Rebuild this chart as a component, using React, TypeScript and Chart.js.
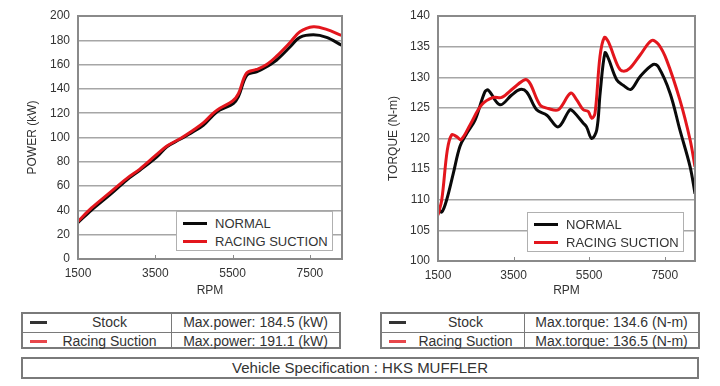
import React, { useEffect, useRef } from "react";
import { Chart, registerables } from "chart.js";

Chart.register(...registerables);

// ---------- data ----------
const X_TICKS = [1500, 3500, 5500, 7500];
const SERIES_LABELS = ["NORMAL", "RACING SUCTION"];

const POWER_RPM_NORMAL = [1500, 1850, 2330, 2760, 3100, 3540, 3800, 4140, 4480, 4740, 5000, 5170, 5520, 5650, 5870, 6120, 6380, 6640, 6990, 7240, 7590, 7930, 8320];
const POWER_NORMAL = [30, 40.3, 53, 65, 73, 84, 92.4, 98.5, 104.8, 110, 118.5, 122.6, 128, 133.6, 151.4, 154, 158.3, 163.8, 174.7, 182.4, 184.5, 182.4, 176];
const POWER_RPM_RACING = [1500, 1850, 2300, 2750, 3100, 3500, 3800, 4140, 4480, 4740, 5000, 5170, 5500, 5650, 5860, 6120, 6380, 6640, 6980, 7240, 7590, 7930, 8320];
const POWER_RACING = [31, 42, 54, 66, 74, 85, 93, 99, 106, 112, 120, 124, 130, 136, 153, 156, 160, 167, 178, 187, 191.1, 189, 184];

const TORQUE_RPM_NORMAL = [1500, 1600, 1730, 1905, 2080, 2260, 2480, 2740, 2830, 3140, 3450, 3670, 3845, 4110, 4380, 4680, 4990, 5080, 5345, 5430, 5566, 5700, 5790, 5918, 6006, 6227, 6400, 6600, 6844, 7196, 7330, 7640, 7900, 8170, 8300];
const TORQUE_NORMAL = [108.6, 108.0, 110, 114.3, 118.7, 120.8, 123, 127.6, 127.9, 125.5, 127.1, 128.0, 127.6, 124.7, 123.8, 121.9, 124.7, 124.4, 122.5, 121.9, 120.0, 121.4, 127.4, 134.0, 133.1, 129.6, 128.7, 128.0, 130.1, 132.1, 131.7, 127.4, 121.4, 115.4, 111.0];
const TORQUE_RPM_RACING = [1500, 1600, 1746, 1862, 1994, 2108, 2347, 2656, 2963, 3185, 3492, 3800, 3934, 4198, 4418, 4683, 5010, 5170, 5345, 5477, 5566, 5654, 5786, 5901, 6006, 6270, 6400, 6580, 6844, 7152, 7330, 7550, 7900, 8170, 8300];
const TORQUE_RACING = [107.5, 110, 118.1, 120.6, 120.3, 119.8, 122.2, 125.5, 126.7, 126.7, 128.2, 129.6, 129.0, 125.5, 124.9, 124.7, 127.4, 126.3, 124.7, 124.4, 123.3, 124.1, 133.4, 136.5, 135.8, 131.7, 131.0, 131.5, 133.6, 136.0, 135.4, 132.8, 126.3, 119.8, 115.4];

const POWER_TABLE = ["Max.power: 184.5 (kW)", "Max.power: 191.1 (kW)"];
const TORQUE_TABLE = ["Max.torque: 134.6 (N-m)", "Max.torque: 136.5 (N-m)"];
const TABLE_LABELS = ["Stock", "Racing Suction"];
const SPEC_TEXT = "Vehicle Specification : HKS MUFFLER";

// ---------- style ----------
const FONT = "'Liberation Sans', Arial, Helvetica, sans-serif";
const TEXT = "#333333";
const BLACK = "#0a0a0a";
const RED = "#e3161d";
const GRID = "#a6a6a6";
const FRAME = "#8a8a8a";

const zip = (xs: number[], ys: number[]) => xs.map((x, i) => ({ x, y: ys[i] }));

const framePlugin = {
  id: "frame",
  afterDraw(chart: any) {
    const { ctx, chartArea } = chart;
    const { left, top, right, bottom } = chartArea;
    ctx.save();
    const xs = chart.scales.x;
    ctx.strokeStyle = FRAME;
    ctx.lineWidth = 1;
    xs.ticks.forEach((t: any) => {
      const px = Math.round(xs.getPixelForValue(t.value)) + 0.5;
      ctx.beginPath();
      ctx.moveTo(px, bottom);
      ctx.lineTo(px, bottom - 4);
      ctx.stroke();
    });
    ctx.lineWidth = 2;
    ctx.strokeRect(left, top, right - left, bottom - top);
    ctx.restore();
  },
};

type ChartProps = {
  left: number;
  top: number;
  rpmA: number[];
  valA: number[];
  rpmB: number[];
  valB: number[];
  xMax: number;
  yMin: number;
  yMax: number;
  yStep: number;
  yTitle: string;
  padTop: number;
  padRight: number;
  xAxisH: number;
  yTitlePad: number;
};

function DynoChart(p: ChartProps) {
  const ref = useRef<HTMLCanvasElement>(null);
  useEffect(() => {
    if (!ref.current) return;
    const font = { family: FONT, size: 12 };
    const chart = new Chart(ref.current, {
      type: "line",
      data: {
        datasets: [
          {
            label: SERIES_LABELS[0],
            data: zip(p.rpmA, p.valA),
            borderColor: BLACK,
            borderWidth: 3,
            pointRadius: 0,
            tension: 0.35,
            fill: false,
            order: 1,
          },
          {
            label: SERIES_LABELS[1],
            data: zip(p.rpmB, p.valB),
            borderColor: RED,
            borderWidth: 3,
            pointRadius: 0,
            tension: 0.35,
            fill: false,
            order: 0,
          },
        ],
      },
      options: {
        responsive: false,
        animation: false,
        devicePixelRatio: 1,
        layout: { padding: { top: p.padTop, right: p.padRight, left: 0, bottom: 0 } },
        plugins: { legend: { display: false }, tooltip: { enabled: false } },
        scales: {
          x: {
            type: "linear",
            min: 1500,
            max: p.xMax,
            afterBuildTicks: (s: any) => {
              s.ticks = X_TICKS.map((v) => ({ value: v }));
            },
            afterFit: (s: any) => {
              s.height = p.xAxisH;
            },
            grid: { display: false, drawTicks: false },
            border: { display: false },
            ticks: {
              padding: 7,
              color: TEXT,
              font,
              maxRotation: 0,
              autoSkip: false,
              callback: (v: any) => String(v),
            },
            title: { display: true, text: "RPM", color: TEXT, font, padding: { top: 0, bottom: 2 } },
          },
          y: {
            min: p.yMin,
            max: p.yMax,
            afterFit: (s: any) => {
              s.width = 78;
            },
            ticks: { stepSize: p.yStep, padding: 8, color: TEXT, font, callback: (v: any) => String(v) },
            grid: { color: GRID, lineWidth: 1.5, drawTicks: false },
            border: { display: false },
            title: { display: true, text: p.yTitle, color: TEXT, font, padding: { top: p.yTitlePad, bottom: 0 } },
          },
        },
      } as any,
      plugins: [framePlugin],
    });
    return () => chart.destroy();
  }, []);

  return (
    <div style={{ position: "absolute", left: p.left, top: p.top, width: 360, height: 300 }}>
      <canvas ref={ref} width={360} height={300} style={{ display: "block" }} />
    </div>
  );
}

function Legend({ left, top }: { left: number; top: number }) {
  const colors = [BLACK, RED];
  return (
    <div
      style={{
        position: "absolute",
        left,
        top,
        width: 157,
        height: 40,
        boxSizing: "border-box",
        border: "1px solid #b0b0b0",
        background: "#fff",
        fontFamily: FONT,
        fontSize: 13,
        color: TEXT,
      }}
    >
      {SERIES_LABELS.map((l, i) => (
        <div key={l} style={{ position: "absolute", left: 6, top: 3 + i * 18, height: 16, display: "flex", alignItems: "center" }}>
          <div style={{ width: 24, height: 3, background: colors[i], marginRight: 8 }} />
          <span style={{ whiteSpace: "nowrap" }}>{l}</span>
        </div>
      ))}
    </div>
  );
}

function InfoTable({ left, width, split, values }: { left: number; width: number; split: number; values: string[] }) {
  const dash = ["#333333", "#e8474b"];
  return (
    <div
      style={{
        position: "absolute",
        left,
        top: 312,
        width,
        height: 37,
        boxSizing: "border-box",
        border: "2px solid #7a7a7a",
        fontFamily: FONT,
        fontSize: 14,
        color: TEXT,
      }}
    >
      {TABLE_LABELS.map((lab, i) => (
        <div
          key={lab}
          style={{
            position: "absolute",
            left: 0,
            top: i * 17.5,
            width: width - 4,
            height: 16.5,
            borderTop: i > 0 ? "1px solid #7a7a7a" : "none",
          }}
        >
          <div style={{ position: "absolute", left: 7, top: 7, width: 17, height: 3, background: dash[i] }} />
          <div style={{ position: "absolute", left: 24, width: split - 24, top: 0, height: 17, lineHeight: "17px", textAlign: "center", whiteSpace: "nowrap" }}>{lab}</div>
          <div style={{ position: "absolute", left: split, width: width - 4 - split, top: 0, height: 17, lineHeight: "17px", textAlign: "center", whiteSpace: "nowrap" }}>{values[i]}</div>
        </div>
      ))}
      <div style={{ position: "absolute", left: split - 1, top: 0, width: 1, height: 33, background: "#7a7a7a" }} />
    </div>
  );
}

export default function App() {
  return (
    <div style={{ position: "absolute", left: 0, top: 0, width: 720, height: 386, background: "#fff", overflow: "hidden" }}>
      <DynoChart
        left={0}
        top={0}
        rpmA={POWER_RPM_NORMAL}
        valA={POWER_NORMAL}
        rpmB={POWER_RPM_RACING}
        valB={POWER_RACING}
        xMax={8330}
        yMin={0}
        yMax={200}
        yStep={20}
        yTitle="POWER (kW)"
        padTop={16}
        padRight={18}
        xAxisH={41}
        yTitlePad={25}
      />
      <DynoChart
        left={360}
        top={0}
        rpmA={TORQUE_RPM_NORMAL}
        valA={TORQUE_NORMAL}
        rpmB={TORQUE_RPM_RACING}
        valB={TORQUE_RACING}
        xMax={8300}
        yMin={100}
        yMax={140}
        yStep={5}
        yTitle="TORQUE (N-m)"
        padTop={16}
        padRight={25}
        xAxisH={39}
        yTitlePad={26}
      />
      <Legend left={176} top={211} />
      <Legend left={527} top={212} />
      <InfoTable left={21} width={320} split={149} values={POWER_TABLE} />
      <InfoTable left={380} width={320} split={143} values={TORQUE_TABLE} />
      <div
        style={{
          position: "absolute",
          left: 21,
          top: 357,
          width: 678,
          height: 22,
          boxSizing: "border-box",
          border: "2px solid #7a7a7a",
          fontFamily: FONT,
          fontSize: 15,
          color: TEXT,
          textAlign: "center",
          lineHeight: "18px",
        }}
      >
        {SPEC_TEXT}
      </div>
    </div>
  );
}
